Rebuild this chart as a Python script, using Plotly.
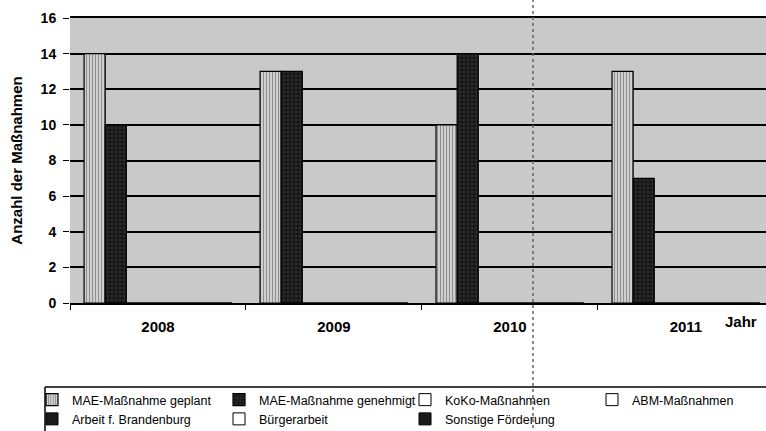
import plotly.graph_objects as go

years = ["2008", "2009", "2010", "2011"]
series_names = [
    "MAE-Maßnahme geplant",
    "MAE-Maßnahme genehmigt",
    "KoKo-Maßnahmen",
    "ABM-Maßnahmen",
    "Arbeit f. Brandenburg",
    "Bürgerarbeit",
    "Sonstige Förderung",
]
mae_geplant = [14, 13, 10, 13]
mae_genehmigt = [10, 13, 14, 7]
koko = [0, 0, 0, 0]
abm = [0, 0, 0, 0]
arbeit_bb = [0, 0, 0, 0]
buergerarbeit = [0, 0, 0, 0]
sonstige = [0, 0, 0, 0]
y_ticks = [0, 2, 4, 6, 8, 10, 12, 14, 16]

values = [mae_geplant, mae_genehmigt, koko, abm, arbeit_bb, buergerarbeit, sonstige]
fills = ["light", "dark", "white", "white", "black", "white", "black"]
# legend column of each series (4 columns, filled row by row)
legend_ids = ["legend", "legend2", "legend3", "legend4", "legend", "legend2", "legend3"]

FONT = "Liberation Sans, Arial, sans-serif"

# plot area in pixels (for placing the extra layout items)
L, T, B, W, H = 70, 18, 128, 766, 431
PW, PH = W - L, H - T - B


def px(x):
    return (x - L) / PW


def py(y):
    return (H - B - y) / PH


fig = go.Figure()
for i, (name, vals, kind, lg) in enumerate(zip(series_names, values, fills, legend_ids)):
    if kind == "light":
        marker = dict(color="#e4e4e4", line=dict(color="black", width=1.2),
                      pattern=dict(shape="|", fgcolor="#3a3a3a", size=3, solidity=0.5))
    elif kind == "dark":
        marker = dict(color="#1a1a1a", line=dict(color="black", width=1.2),
                      pattern=dict(shape=".", fgcolor="#6a6a6a", size=4, solidity=0.15))
    elif kind == "black":
        marker = dict(color="#1a1a1a", line=dict(color="black", width=1))
    else:
        marker = dict(color="white", line=dict(color="black", width=1))
    fig.add_trace(go.Bar(x=years, y=vals, name=name, marker=marker,
                         legend=lg, legendgroup=f"g{i}"))

legend_common = dict(
    orientation="v",
    xref="paper", yref="paper",
    y=py(385),
    xanchor="left", yanchor="top",
    borderwidth=0,
    bgcolor="rgba(0,0,0,0)",
    font=dict(family=FONT, size=12.5, color="black"),
    traceorder="normal",
    tracegroupgap=8,
    itemwidth=30,
)
col_symbol_x = [52, 239, 425, 612]
legends = {}
for key, sx in zip(["legend", "legend2", "legend3", "legend4"], col_symbol_x):
    legends[key] = dict(legend_common, x=px(sx - 20))

fig.update_layout(
    width=W, height=H,
    margin=dict(l=L, r=0, t=T, b=B, autoexpand=False),
    paper_bgcolor="white",
    plot_bgcolor="#c9c9c9",
    barmode="group",
    bargap=0.16,
    bargroupgap=0,
    font=dict(family=FONT, color="black"),
    showlegend=True,
    **legends,
)

fig.update_xaxes(
    type="category",
    range=[-0.5, 3.455],
    tickson="boundaries",
    ticks="outside", ticklen=5, tickcolor="black", tickwidth=1,
    showline=True, linecolor="black", linewidth=2, mirror=True,
    showgrid=False, automargin=False,
    ticklabelstandoff=9,
    tickfont=dict(family=FONT, size=15, weight="bold"),
)
fig.update_yaxes(
    range=[0, 16],
    tickvals=y_ticks,
    ticks="outside", ticklen=6, tickcolor="black", tickwidth=1,
    showgrid=True, gridcolor="black", gridwidth=1.5,
    zeroline=False, showline=False, automargin=False,
    ticklabelstandoff=4,
    tickfont=dict(family=FONT, size=14, weight="bold"),
    title=dict(text="Anzahl der Maßnahmen", standoff=14,
               font=dict(family=FONT, size=15, weight="bold")),
)

fig.add_annotation(
    text="Jahr", xref="paper", yref="paper",
    x=px(741), y=py(321),
    showarrow=False, xanchor="center", yanchor="middle",
    font=dict(family=FONT, size=15, weight="bold"),
)

# legend frame (top and left edges visible in the scan)
fig.add_shape(type="line", xref="paper", yref="paper",
              x0=px(45), x1=1.02, y0=py(387), y1=py(387),
              line=dict(color="black", width=1.5))
fig.add_shape(type="line", xref="paper", yref="paper",
              x0=px(45), x1=px(45), y0=py(387), y1=py(440),
              line=dict(color="black", width=1.5))

# scanner fold line
fig.add_shape(
    type="line", xref="paper", yref="paper",
    x0=px(533), x1=px(533), y0=py(440), y1=py(-10),
    line=dict(color="#666666", width=1.5, dash="dot"),
    layer="above",
)

fig.write_html(
    "out.html",
    config={"displayModeBar": False},
    post_script="document.body.style.margin='0';document.body.style.overflow='hidden';",
)
